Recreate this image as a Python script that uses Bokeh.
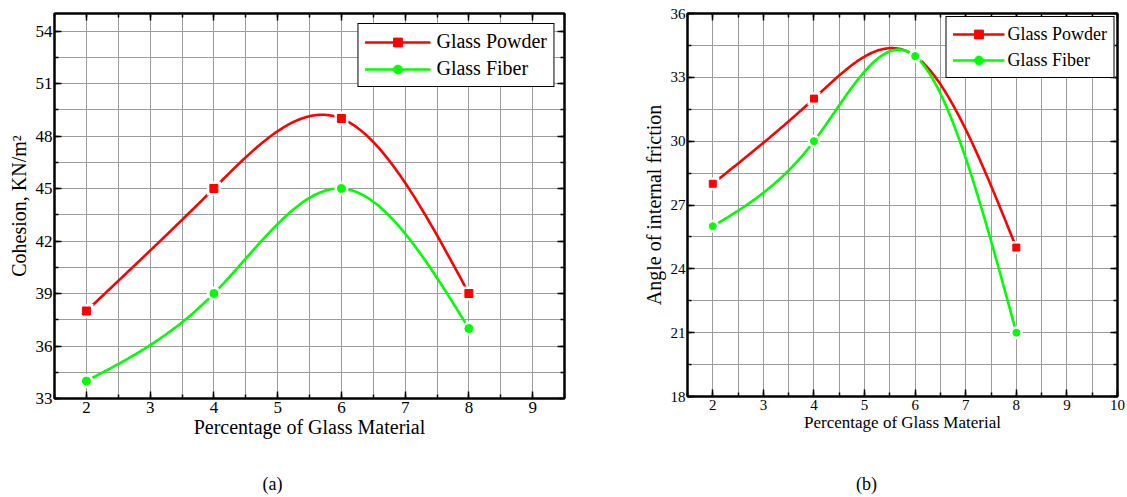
import numpy as np
from bokeh.plotting import figure
from bokeh.models import (LinearAxis, SingleIntervalTicker, Range1d, Legend,
                          LegendItem, Label, CustomJSTickFormatter, Spacer)
from bokeh.layouts import row, column
from bokeh.embed import file_html
from bokeh.resources import INLINE

# ---------------- data ----------------
pct = [2, 4, 6, 8]
cohesion_powder = [38, 45, 49, 39]
cohesion_fiber = [34, 39, 45, 37]
friction_powder = [28, 32, 34, 25]
friction_fiber = [26, 30, 34, 21]

x_label = "Percentage of Glass Material"
y_label_a = "Cohesion, KN/m\u00b2"
y_label_b = "Angle of internal friction"
series_names = ["Glass Powder", "Glass Fiber"]
panel_tags = ["(a)", "(b)"]

FONT = "Liberation Serif"
RED = "#ff0000"
GREEN = "#00ff00"
GRID = "#9c9c9c"


def smooth(xs, ys, n=200):
    """Natural cubic spline used only to draw the connecting curve."""
    x = np.asarray(xs, float)
    y = np.asarray(ys, float)
    k = len(x)
    h = np.diff(x)
    A = np.zeros((k, k))
    b = np.zeros(k)
    A[0, 0] = A[-1, -1] = 1.0
    for i in range(1, k - 1):
        A[i, i - 1] = h[i - 1]
        A[i, i] = 2 * (h[i - 1] + h[i])
        A[i, i + 1] = h[i]
        b[i] = 6 * ((y[i + 1] - y[i]) / h[i] - (y[i] - y[i - 1]) / h[i - 1])
    M = np.linalg.solve(A, b)
    xx = np.linspace(x[0], x[-1], n)
    idx = np.clip(np.searchsorted(x, xx) - 1, 0, k - 2)
    x0, x1 = x[idx], x[idx + 1]
    hh = x1 - x0
    yy = (M[idx] * (x1 - xx) ** 3 / (6 * hh) + M[idx + 1] * (xx - x0) ** 3 / (6 * hh)
          + (y[idx] / hh - M[idx] * hh / 6) * (x1 - xx)
          + (y[idx + 1] / hh - M[idx + 1] * hh / 6) * (xx - x0))
    return xx, yy


def style_axis(ax):
    ax.axis_line_color = "black"
    ax.axis_line_width = 2
    ax.major_tick_in = 7
    ax.major_tick_out = 0
    ax.minor_tick_in = 4
    ax.minor_tick_out = 0
    ax.major_tick_line_color = "black"
    ax.minor_tick_line_color = "black"
    ax.major_tick_line_width = 1.5
    ax.minor_tick_line_width = 1.5
    ax.major_label_text_font = FONT
    ax.major_label_text_color = "black"
    ax.axis_label_text_font = FONT
    ax.axis_label_text_font_style = "normal"
    ax.axis_label_text_color = "black"


def make_chart(xr, yr, ylabel, powder, fiber, g):
    p = figure(x_range=Range1d(*xr), y_range=Range1d(*yr),
               frame_width=g["fw"], frame_height=g["fh"],
               min_border_left=g["bl"], min_border_right=g["br"],
               min_border_top=g["bt"], min_border_bottom=g["bb"],
               output_backend="svg", toolbar_location=None,
               background_fill_color="white", border_fill_color="white")
    p.outline_line_color = "black"
    p.outline_line_width = 2

    xa = p.below[0]
    ya = p.left[0]

    xt = SingleIntervalTicker(interval=1, num_minor_ticks=2)
    yt = SingleIntervalTicker(interval=3, num_minor_ticks=2)
    xa.ticker = xt
    ya.ticker = yt
    p.xgrid.ticker = xt
    p.ygrid.ticker = yt
    for gr in (p.xgrid, p.ygrid):
        gr.grid_line_color = GRID
        gr.grid_line_width = 1
        gr.minor_grid_line_color = GRID
        gr.minor_grid_line_width = 1

    blank = CustomJSTickFormatter(code="return ''")
    top = LinearAxis(ticker=xt, formatter=blank)
    right = LinearAxis(ticker=yt, formatter=blank)
    for ax in (xa, ya, top, right):
        style_axis(ax)
    for ax in (top, right):
        ax.major_label_text_font_size = "0px"
        ax.major_label_standoff = 0
    p.add_layout(top, "above")
    p.add_layout(right, "right")

    xa.axis_label = x_label
    ya.axis_label = ylabel
    xa.major_label_text_font_size = g["tick_fs"]
    ya.major_label_text_font_size = g["tick_fs"]
    xa.axis_label_text_font_size = g["xlab_fs"]
    ya.axis_label_text_font_size = g["ylab_fs"]
    xa.major_label_standoff = 3
    ya.major_label_standoff = 2
    xa.axis_label_standoff = 0
    ya.axis_label_standoff = 3

    items = []
    for vals, col, mk, name in ((powder, RED, "square", series_names[0]),
                                (fiber, GREEN, "circle", series_names[1])):
        sx, sy = smooth(pct, vals)
        ln = p.line(sx, sy, line_color=col, line_width=2.6)
        p.scatter(pct, vals, marker=mk, size=g["ms"] + 6,
                  fill_color="white", line_color=None)
        sc = p.scatter(pct, vals, marker=mk, size=g["ms"],
                       fill_color=col, line_color=col)
        items.append(LegendItem(label=name, renderers=[ln, sc]))

    leg = Legend(items=items, location="top_right", margin=g["lm"],
                 padding=6, spacing=4, glyph_width=g["gw"], glyph_height=22,
                 label_standoff=g["ls"], label_text_font=FONT,
                 label_text_font_size=g["leg_fs"], label_text_color="black",
                 border_line_color="black", border_line_width=1.2,
                 border_line_alpha=1, background_fill_color="white",
                 background_fill_alpha=1)
    p.add_layout(leg)
    return p


def make_tag(text):
    t = figure(width=40, height=22, min_border=0, x_axis_type=None,
               y_axis_type=None, x_range=Range1d(0, 1), y_range=Range1d(0, 1),
               output_backend="svg", toolbar_location=None,
               outline_line_color=None, background_fill_color="white",
               border_fill_color="white")
    t.grid.visible = False
    t.add_layout(Label(x=20, y=11, x_units="screen", y_units="screen",
                       text=text, text_align="center", text_baseline="middle",
                       text_font=FONT, text_font_size="18px",
                       text_color="black"))
    return t


ga = dict(fw=510, fh=385, bl=54, br=75, bt=11, bb=76, tick_fs="17px",
          xlab_fs="20px", ylab_fs="20px", leg_fs="20px", gw=66, ls=6, lm=10,
          ms=8)
gb = dict(fw=430, fh=383, bl=45, br=9, bt=13, bb=76, tick_fs="15px",
          xlab_fs="17px", ylab_fs="20px", leg_fs="18px", gw=52, ls=3, lm=3,
          ms=7)

pa = make_chart((1.5, 9.5), (33, 55), y_label_a, cohesion_powder,
                cohesion_fiber, ga)
pb = make_chart((1.5, 10), (18, 36), y_label_b, friction_powder,
                friction_fiber, gb)

tags = row(Spacer(width=252, height=22), make_tag(panel_tags[0]),
           Spacer(width=554, height=22), make_tag(panel_tags[1]))

layout = column(row(pa, pb), tags)
open("out.html", "w").write(file_html(layout, INLINE))
